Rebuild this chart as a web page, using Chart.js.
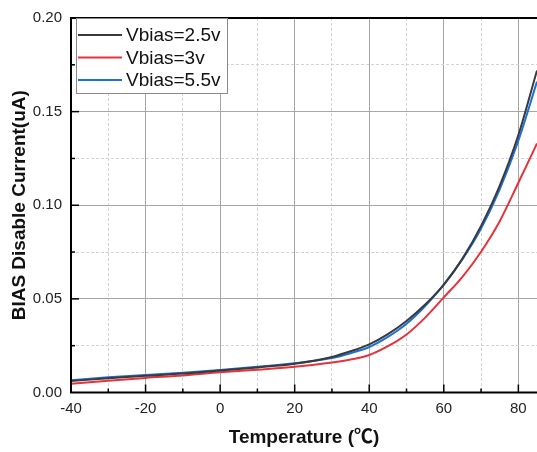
<!DOCTYPE html>
<html>
<head>
<meta charset="utf-8">
<script src="https://cdn.jsdelivr.net/npm/chart.js@4.4.0/dist/chart.umd.min.js"></script>
<style>
html,body{margin:0;padding:0;background:#fff}
#wrap{width:537px;height:452px;position:relative}
</style>
</head>
<body>
<div id="wrap"><canvas id="chartBias"></canvas></div>
<script>
// temperature (C) and disable current (uA)
const temps   = [-40, -30, -20, -10, 0, 10, 20, 30, 35, 40, 45, 50, 55, 60, 65, 70, 75, 80, 85];
const vbias25 = [0.0061, 0.0076, 0.0089, 0.0101, 0.0117, 0.0134, 0.0154, 0.0190, 0.0220, 0.0257, 0.0312, 0.0382, 0.0470, 0.0575, 0.0715, 0.0890, 0.1105, 0.1375, 0.1720];
const vbias3  = [0.0047, 0.0063, 0.0078, 0.0091, 0.0108, 0.0122, 0.0137, 0.0160, 0.0176, 0.0200, 0.0247, 0.0310, 0.0400, 0.0508, 0.0618, 0.0752, 0.0915, 0.1120, 0.1330];
const vbias55 = [0.0066, 0.0081, 0.0093, 0.0105, 0.0120, 0.0137, 0.0156, 0.0184, 0.0210, 0.0243, 0.0297, 0.0367, 0.0462, 0.0578, 0.0712, 0.0876, 0.1085, 0.1345, 0.1660];
const seriesNames = ["Vbias=2.5v", "Vbias=3v", "Vbias=5.5v"];
const seriesColors = ["#3a3a3a", "#e4333a", "#1e6fd9"];
const xTicks = [-40, -30, -20, -10, 0, 10, 20, 30, 40, 50, 60, 70, 80];
const yTicks = [0, 0.025, 0.05, 0.075, 0.10, 0.125, 0.15, 0.175, 0.20];

const FONT = '"Liberation Sans", Arial, "Noto Sans CJK SC", sans-serif';

function pts(vals){
return temps.map((t,i)=>({x:t,y:vals[i]}));
}

function xMajor(v){ return Math.round(v) % 20 === 0; }
function yMajor(v){ return Math.round(v*1000) % 50 === 0; }

// frame, inward ticks and the legend box inside the plot
const framePlugin = {
id:"frame",
afterDraw(chart){
const ctx = chart.ctx;
const a = chart.chartArea;
const sx = chart.scales.x, sy = chart.scales.y;
ctx.save();
ctx.strokeStyle = "#000";
ctx.lineWidth = 1.5;
sx.ticks.forEach(t=>{
if(t.value <= sx.min || t.value >= sx.max) return;
const p = sx.getPixelForValue(t.value);
const len = xMajor(t.value) ? 8 : 4;
ctx.beginPath(); ctx.moveTo(p, a.bottom); ctx.lineTo(p, a.bottom-len); ctx.stroke();
});
sy.ticks.forEach(t=>{
if(t.value <= sy.min || t.value >= sy.max) return;
const p = sy.getPixelForValue(t.value);
const len = yMajor(t.value) ? 8 : 4;
ctx.beginPath(); ctx.moveTo(a.left, p); ctx.lineTo(a.left+len, p); ctx.stroke();
});
ctx.lineWidth = 2;
ctx.beginPath();
ctx.moveTo(a.right+2, a.top);
ctx.lineTo(a.left, a.top);
ctx.lineTo(a.left, a.bottom);
ctx.lineTo(a.right+2, a.bottom);
ctx.stroke();

// legend
const bx = a.left+5, by = a.top, bw = 151, bh = 75;
ctx.fillStyle = "#fff";
ctx.fillRect(bx, by+1, bw, bh-1);
ctx.strokeStyle = "#8a8a8a";
ctx.lineWidth = 1;
ctx.strokeRect(bx+0.5, by+0.5, bw, bh);
ctx.font = "19px " + FONT;
ctx.textBaseline = "middle";
ctx.textAlign = "left";
chart.data.datasets.forEach((ds,i)=>{
const yy = by + 17 + i*22.5;
ctx.strokeStyle = ds.borderColor;
ctx.lineWidth = 2;
ctx.beginPath(); ctx.moveTo(bx+2, yy); ctx.lineTo(bx+46, yy); ctx.stroke();
ctx.fillStyle = "#111";
ctx.fillText(ds.label, bx+50, yy+1);
});
ctx.restore();
}
};

new Chart(document.getElementById("chartBias"),{
type:"line",
data:{
datasets:[
{label:seriesNames[0], data:pts(vbias25), borderColor:seriesColors[0]},
{label:seriesNames[1], data:pts(vbias3), borderColor:seriesColors[1]},
{label:seriesNames[2], data:pts(vbias55), borderColor:seriesColors[2]}
].map(d=>Object.assign(d,{borderWidth:2, pointRadius:0, pointHoverRadius:0, fill:false, cubicInterpolationMode:"monotone"}))
},
options:{
responsive:true,
maintainAspectRatio:false,
animation:false,
layout:{autoPadding:false, padding:{top:15, left:0, right:0, bottom:0}},
plugins:{legend:{display:false}, tooltip:{enabled:false}},
scales:{
x:{
type:"linear", min:-40, max:85,
afterFit(s){ s.height = 59.5; },
afterBuildTicks(s){ s.ticks = xTicks.map(v=>({value:v})); },
ticks:{
padding:7, color:"#222", maxRotation:0, autoSkip:false,
font:{family:FONT, size:15},
callback:v=> xMajor(v) ? String(v) : ""
},
grid:{
drawTicks:false,
color:c=> c.tick && xMajor(c.tick.value) ? "#a6a6a6" : "#d2d2d2",
lineWidth:1
},
border:{display:false, dash:c=> c.tick && xMajor(c.tick.value) ? [] : [3,2]},
title:{display:true, text:"Temperature (℃)", color:"#111",
font:{family:FONT, size:19, weight:"bold"}, padding:{top:0, bottom:3}}
},
y:{
min:0, max:0.2,
afterFit(s){ s.width = 71; },
afterBuildTicks(s){ s.ticks = yTicks.map(v=>({value:v})); },
ticks:{
padding:9, color:"#222", autoSkip:false,
font:{family:FONT, size:15},
callback:v=> yMajor(v) ? v.toFixed(2) : ""
},
grid:{
drawTicks:false,
color:c=> c.tick && yMajor(c.tick.value) ? "#a6a6a6" : "#d2d2d2",
lineWidth:1
},
border:{display:false, dash:c=> c.tick && yMajor(c.tick.value) ? [] : [3,2]},
title:{display:true, text:"BIAS Disable Current(uA)", color:"#111",
font:{family:FONT, size:19, weight:"bold"}, padding:{top:8, bottom:0}}
}
}
},
plugins:[framePlugin]
});
</script>
</body>
</html>
